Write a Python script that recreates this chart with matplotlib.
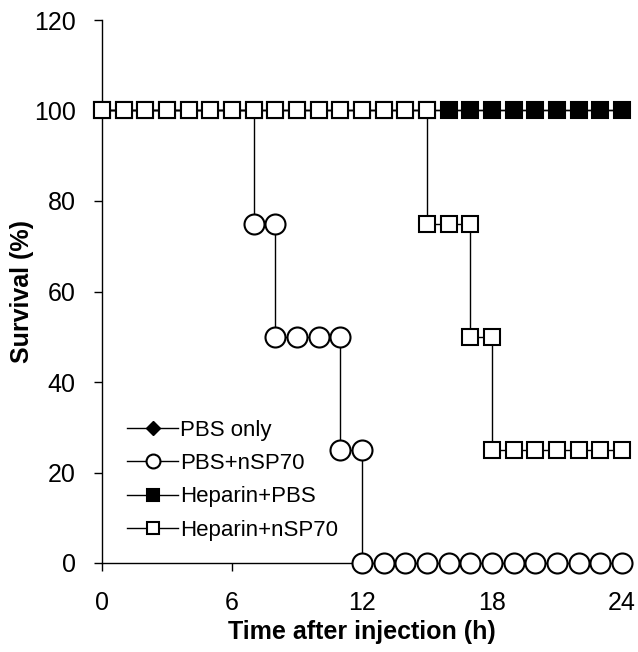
import matplotlib
matplotlib.use('Agg')
import matplotlib.pyplot as plt

plt.rcParams['font.family'] = ['Liberation Sans', 'DejaVu Sans']

# ---- data ----
labels = ['PBS only', 'PBS+nSP70', 'Heparin+PBS', 'Heparin+nSP70']

pbs_only_x = [0, 1, 2, 3, 4, 5, 6, 7, 8, 9, 10, 11, 12, 13, 14, 15, 16, 17, 18, 19, 20, 21, 22, 23, 24]
pbs_only_y = [100, 100, 100, 100, 100, 100, 100, 100, 100, 100, 100, 100, 100,
              100, 100, 100, 100, 100, 100, 100, 100, 100, 100, 100, 100]

pbs_nsp_x = [0, 1, 2, 3, 4, 5, 6, 7, 7, 8, 8, 9, 10, 11, 11, 12, 12, 13, 14, 15, 16, 17, 18, 19, 20, 21, 22, 23, 24]
pbs_nsp_y = [100, 100, 100, 100, 100, 100, 100, 100, 75, 75, 50, 50, 50, 50, 25, 25, 0,
             0, 0, 0, 0, 0, 0, 0, 0, 0, 0, 0, 0]

hep_pbs_x = [0, 1, 2, 3, 4, 5, 6, 7, 8, 9, 10, 11, 12, 13, 14, 15, 16, 17, 18, 19, 20, 21, 22, 23, 24]
hep_pbs_y = [100, 100, 100, 100, 100, 100, 100, 100, 100, 100, 100, 100, 100,
             100, 100, 100, 100, 100, 100, 100, 100, 100, 100, 100, 100]

hep_nsp_x = [0, 1, 2, 3, 4, 5, 6, 7, 8, 9, 10, 11, 12, 13, 14, 15, 15, 16, 17, 17, 18, 18, 19, 20, 21, 22, 23, 24]
hep_nsp_y = [100, 100, 100, 100, 100, 100, 100, 100, 100, 100, 100, 100, 100, 100, 100, 100,
             75, 75, 75, 50, 50, 25, 25, 25, 25, 25, 25, 25]

x_ticks = [0, 6, 12, 18, 24]
y_ticks = [0, 20, 40, 60, 80, 100, 120]

# ---- figure ----
fig = plt.figure(figsize=(6.38, 6.52), dpi=100)
W, H = 638, 652
left, right, bottom, top = 102, 622, 563, 20
ax = fig.add_axes([left / W, 1 - bottom / H, (right - left) / W, (bottom - top) / H])

lw = 1.0
mew = 1.5
# circles at the 100% level are hidden behind the square markers in the reference
circle_marks = [i for i, v in enumerate(pbs_nsp_y) if v < 100]

l1, = ax.plot(pbs_only_x, pbs_only_y, color='black', lw=lw, marker='D', ms=8,
              mfc='black', mec='black', clip_on=False, zorder=3)
l2, = ax.plot(pbs_nsp_x, pbs_nsp_y, color='black', lw=lw, marker='o', ms=14.4,
              mfc='white', mec='black', mew=mew, clip_on=False, zorder=4,
              markevery=circle_marks)
l3, = ax.plot(hep_pbs_x, hep_pbs_y, color='black', lw=lw, marker='s', ms=12.2,
              mfc='black', mec='black', mew=mew, clip_on=False, zorder=5)
l4, = ax.plot(hep_nsp_x, hep_nsp_y, color='black', lw=lw, marker='s', ms=12.2,
              mfc='white', mec='black', mew=mew, clip_on=False, zorder=6)

ax.set_xlim(0, 24)
ax.set_ylim(0, 120)
ax.set_xticks(x_ticks)
ax.set_yticks(y_ticks)
ax.spines['top'].set_visible(False)
ax.spines['right'].set_visible(False)
for s in ('left', 'bottom'):
    ax.spines[s].set_linewidth(1.0)
ax.tick_params(axis='both', direction='out', length=6, width=1.0, labelsize=18)
ax.tick_params(axis='y', pad=13)
ax.tick_params(axis='x', pad=14)

ax.set_ylabel('Survival (%)', fontsize=18, fontweight='bold', labelpad=0)
ax.set_xlabel('Time after injection (h)', fontsize=18, fontweight='bold', labelpad=4)

leg = ax.legend([l1, l2, l3, l4], labels, loc='upper left',
                bbox_to_anchor=(127 / W, 1 - 420 / H), bbox_transform=fig.transFigure,
                frameon=False, fontsize=16, handlelength=2.3, handletextpad=0.1,
                labelspacing=0.55, borderpad=0, borderaxespad=0)
sizes = [7, 10, 9, 9]
for h, s in zip(leg.legend_handles, sizes):
    h.set_markersize(s)
    h.set_markevery([1])

fig.savefig('out.png', dpi=100)
